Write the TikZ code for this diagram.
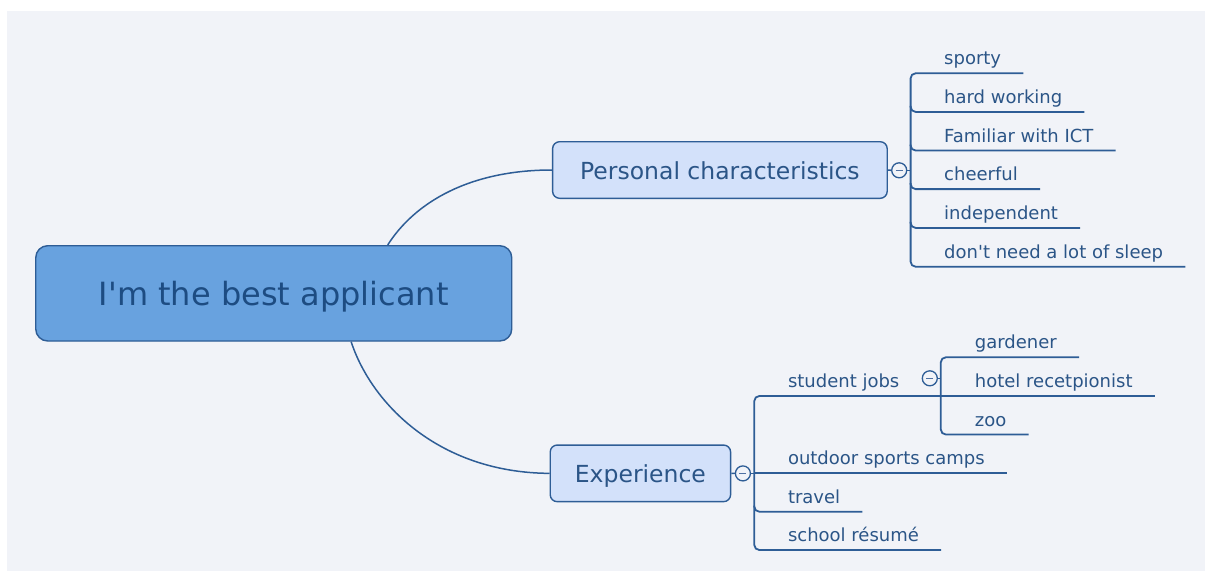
\documentclass[tikz,border=0pt]{standalone}
\usepackage{fontspec}
\setmainfont{DejaVu Sans}
\usetikzlibrary{calc}
\definecolor{bgpanel}{HTML}{F1F3F8}
\definecolor{edgec}{HTML}{2E5D96}
\definecolor{cfill}{HTML}{68A2DF}
\definecolor{bfill}{HTML}{D3E1FA}
\definecolor{ctext}{HTML}{1D4C82}
\definecolor{ltext}{HTML}{2B5587}
\definecolor{minusc}{HTML}{4F71A3}
\newcommand{\sq}{\XeTeXglyph\XeTeXcharglyph"0027\relax}
\begin{document}
\begin{tikzpicture}[x=1pt,y=-1pt,
  central/.style={draw=edgec, fill=cfill, line width=1.4, rounded corners=12,
    text=ctext, font=\fontsize{32}{36}\selectfont, inner sep=0,
    minimum width=476, minimum height=95.3, text height=25, text depth=0},
  branch/.style={draw=edgec, fill=bfill, line width=1.4, rounded corners=7,
    text=ltext, font=\fontsize{23.5}{26}\selectfont, inner sep=0,
    minimum height=56.6, text height=18.6, text depth=0},
  item/.style={anchor=base west, inner sep=0, text=ltext, font=\fontsize{18}{20}\selectfont},
  conn/.style={draw=edgec, line width=1.5},
  uline/.style={draw=edgec, line width=1.8},
  collapse/.style={circle, draw=edgec, fill=bgpanel, line width=1.3, minimum size=15, inner sep=0}
]
\fill[white] (0,0) rectangle (1205,571);
\fill[bgpanel] (7,10.5) rectangle (1205,571);
\useasboundingbox (0,0) rectangle (1205,571);

% main nodes
\node[central] (c) at (273.75,293.35) {I\sq m the best applicant};
\node[branch, minimum width=334.6] (pc) at (719.9,170) {Personal characteristics};
\node[branch, minimum width=180.4] (ex) at (640.4,473.35) {Experience};

% main connectors
\draw[conn] (c.23.76) .. controls (415,202) and (470,170) .. (pc.west);
\draw[conn] (c.-32.94) .. controls (372,405) and (440,472.7) .. (ex.west);

% collapse markers
\node[collapse] (pcc) at (899.2,170.3) {};
\node[collapse] (exc) at (742.9,473.4) {};
\node[collapse] (sjc) at (929.8,378.3) {};
\foreach \m in {pcc,exc,sjc}{
  \draw[minusc, line width=1.4] ($(\m.center)+(-3.5,0)$) -- ($(\m.center)+(3.5,0)$);
}

% ---------- Personal characteristics ----------
\coordinate (pbx) at (910.6,170.3);
\node[item] (p1) at (944,64.8) {sporty};
\node[item] (p2) at (944,103.4) {hard working};
\node[item] (p3) at (944,142.0) {Familiar with ICT};
\node[item] (p4) at (944,180.6) {cheerful};
\node[item] (p5) at (944,219.4) {independent};
\node[item] (p6) at (944,258.2) {don\sq t need a lot of sleep};
\foreach \i in {1,...,6}{
  \coordinate (p\i e) at ($(p\i.base east)+(22,8.5)$);
}
\draw[conn] (pc.east) -- (pcc.west);
\draw[conn] (pcc.east) -- (pbx);
\draw[uline, rounded corners=5] (p1e) -- (p1e -| pbx) -- (p6e -| pbx) -- (p6e);
\foreach \i in {2,...,5}{
  \draw[uline, rounded corners=5] ($(p\i e -| pbx)+(0,-6)$) -- (p\i e -| pbx) -- (p\i e);
}

% ---------- Experience ----------
\coordinate (ebx) at (754.3,473.4);
\node[item] (e1) at (787.8,387.5) {student jobs};
\node[item] (e2) at (787.8,464.8) {outdoor sports camps};
\node[item] (e3) at (787.8,503.2) {travel};
\node[item] (e4) at (787.8,541.5) {school résumé};
\coordinate (e1e) at (940.8,396);
\foreach \i in {2,3,4}{
  \coordinate (e\i e) at ($(e\i.base east)+(22,8.5)$);
}
\draw[conn] (ex.east) -- (exc.west);
\draw[conn] (exc.east) -- (ebx);
\draw[uline, rounded corners=5] (e1e) -- (e1e -| ebx) -- (e4e -| ebx) -- (e4e);
\draw[uline] (e2e -| ebx) -- (e2e);
\draw[uline, rounded corners=5] ($(e3e -| ebx)+(0,-6)$) -- (e3e -| ebx) -- (e3e);

% ---------- student jobs ----------
\coordinate (sbx) at (940.8,378.3);
\node[item] (s1) at (974.7,348.8) {gardener};
\node[item] (s2) at (974.7,387.5) {hotel recetpionist};
\node[item] (s3) at (974.7,426.0) {zoo};
\foreach \i in {1,2,3}{
  \coordinate (s\i e) at ($(s\i.base east)+(22,8.5)$);
}
\draw[conn] (sjc.east) -- (sbx);
\draw[uline, rounded corners=5] (s1e) -- (s1e -| sbx) -- (s3e -| sbx) -- (s3e);
\draw[uline] (s2e -| sbx) -- (s2e);
\end{tikzpicture}
\end{document}
